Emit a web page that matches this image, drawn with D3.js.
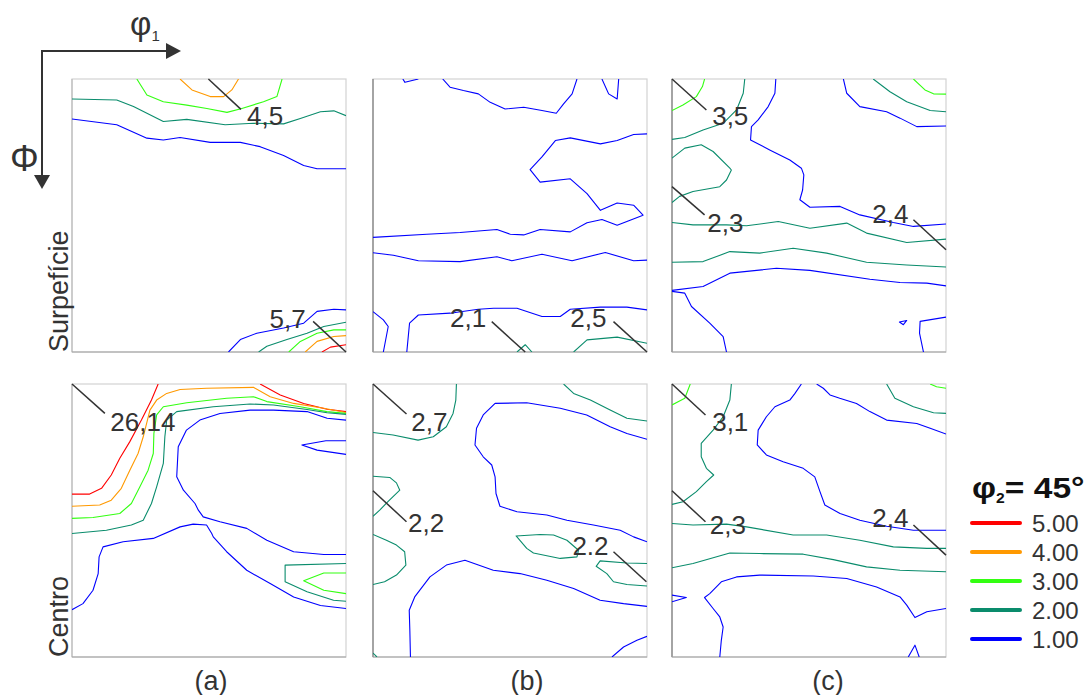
<!DOCTYPE html>
<html>
<head>
<meta charset="utf-8">
<script src="https://cdn.jsdelivr.net/npm/d3@7"></script>
<style>
  body { margin: 0; background: #fff; }
  svg { display: block; font-family: "Liberation Sans", Arial, sans-serif; }
</style>
</head>
<body>
<div id="chart"></div>
<script>
// contour levels (legend)
const levels = [5, 4, 3, 2, 1];
const levelLabels = ["5.00", "4.00", "3.00", "2.00", "1.00"];
const levelColors = ["#ff0000", "#ff9900", "#33ff11", "#0a8c6c", "#0000ff"];
const rowNames = ["Surpefície", "Centro"];
const colNames = ["(a)", "(b)", "(c)"];

// contour lines: [level, [[phi1, Phi], ...] in degrees, closed?]
const surfA = [
  [4, [[35.5,0],[39.4,3.6],[45.4,5.8],[49.8,5.8],[52.5,3.6],[54.7,0]]],
  [3, [[21.3,0],[24.6,5.3],[30,7.5],[37.7,8.6],[44.3,9.7],[50.9,11],[55.8,9.7],[62.9,7.5],[67.3,5.8],[69,0]]],
  [2, [[0,6.6],[14.7,6.9],[20.2,9.1],[30,14],[37.7,13.3],[50.3,15.1],[59.6,14.6],[69.5,14.8],[75,13],[81.6,10.8],[86,10.5],[90,12.1]]],
  [1, [[0,13.2],[14.7,15.1],[24.6,19.5],[30,20.1],[35.5,19.3],[45.4,20.9],[55.3,20.9],[61.8,22.3],[69.5,25.2],[76.1,28.5],[80.5,29.6],[90,29.6]]],
  [1, [[51.4,90],[55.3,85.9],[60.7,83.8],[69.5,82.1],[76.1,80.5],[80.5,76.6],[86,75.9],[90,76.1]]],
  [2, [[61.3,90],[64,88.1],[70.6,85.9],[77.2,83.8],[82.7,81.6],[90,80.2]]],
  [3, [[71.2,90],[75,86.5],[80.5,83.8],[86,82.7],[90,82.7]]],
  [4, [[76.6,90],[80.5,86.5],[86,84.9],[90,84.6]]],
  [5, [[82.1,90],[84.9,88.4],[90,87.6]]]
];
const surfB = [
  [1, [[9.8,0],[10.5,1.1],[14.9,0]]],
  [1, [[22.9,0],[25.3,2.7],[29.7,3.8],[34.6,4.9],[38.5,7.7],[43.4,9.9],[49.5,9.3],[55.5,10.4],[60.2,11.3],[62.6,8.2],[65.4,4.9],[67,0]]],
  [1, [[75.2,0],[77.4,4.9],[80.2,6.6],[80.7,0]]],
  [1, [[90,18.1],[85.6,18.3],[80.2,20.3],[74.7,21.4],[64.8,19.4],[59.9,20.3],[55.5,25.7],[51.6,29.9],[54.9,34],[64.8,32.9],[70.3,37.8],[74.7,43.3],[80.2,40.9],[85.6,41.6],[88.7,44.9],[80.2,48.2],[75.2,46.3],[70.3,47.4],[64.8,50.4],[54.9,49.6],[49.5,51.4],[45.1,51.2],[40.7,49.6],[28.6,50.6],[17.7,51.2],[0,52.2]]],
  [1, [[0,57.3],[6.7,58.1],[14.9,59.9],[28.6,60.2],[40.7,58.6],[45.6,59.9],[55.5,57.8],[65.4,59.9],[76.3,57.2],[85.6,59.9],[90,59.7]]],
  [1, [[0,76.7],[3.4,79.4],[5,81.6],[3.4,90]]],
  [1, [[11.1,90],[12,80.5],[14.9,77.8],[25.3,77.2],[34.6,75.9],[39.6,75.6],[47.3,75.6],[55.5,78.3],[61.5,78.3],[64.8,75.9],[74.7,75.2],[83.4,75.2],[90,76.1]]],
  [2, [[47.3,90],[50,87.6],[52.2,90]]],
  [2, [[65.9,90],[70.3,86],[80.2,85.1],[90,87.1]]]
];
const surfC = [
  [3, [[0,10.4],[3.6,8.6],[8,5.8],[10,2.5],[10.7,0]]],
  [2, [[0,19.9],[4.2,19.3],[10.2,16.8],[16.8,14.6],[21.2,10.2],[23.4,4.7],[23.9,0]]],
  [2, [[0,26.1],[4.2,22.8],[9.6,21.7],[13.5,23.9],[19,29.4],[19.5,30],[17.9,33.3],[15.7,35.5],[6.9,37.1],[2.5,38.7],[0,40.7]]],
  [1, [[34.1,0],[33.8,4.7],[31.6,9.1],[28.3,13.5],[26.1,15.7],[25.8,20.1],[32.1,23.4],[38.7,26.7],[42.5,29.4],[43.3,31.6],[42.9,36.6],[42,39.8],[45.3,42.3],[55.2,42],[61.7,44.8],[72.7,47.3],[79.3,48.6],[90,47.8]]],
  [1, [[56.3,0],[57.4,4.7],[61.7,9.1],[70.5,10.8],[74.9,12.9],[80.4,15.7],[90,15.5]]],
  [2, [[66.1,0],[71.6,4.2],[77.1,7.5],[84.8,10.4],[90,10.8]]],
  [3, [[79.3,0],[83.1,3.6],[85.9,4.9],[90,5]]],
  [2, [[0,47.3],[6.9,48.1],[17.9,48.1],[24.5,48.4],[34.9,47],[45.3,49.2],[57.4,47.5],[63.9,50.8],[77.1,53.9],[90,52.8]]],
  [2, [[0,60.4],[10.2,60.2],[19,56.9],[28.8,57.4],[39.8,55.8],[50.8,57.4],[63.9,60.4],[77.1,61.3],[90,62]]],
  [1, [[0,69.7],[10.2,68.4],[19,64],[34.3,62.4],[45.3,63.1],[65,66],[74.9,67.1],[83.7,67.3],[90,68.2]]],
  [1, [[0,70],[4.2,70.6],[6.4,75],[12.4,80.5],[16.8,84.9],[17.9,90]]],
  [1, [[74.7,80.1],[77.1,79.6],[76,81]], true],
  [1, [[82.6,90],[81.3,83.8],[81.5,79.9],[90,78.5]]]
];
const centA = [
  [5, [[0,36.3],[5.8,36.3],[9.7,34.4],[12.9,30],[15.7,24.5],[19,19],[22.8,11.9],[26.1,5.3],[28.3,0]]],
  [5, [[61.8,0],[68.4,3.6],[76.1,6.4],[83.8,8.3],[90,9.1]]],
  [4, [[0,40.3],[9.1,39.9],[12.9,38.3],[16.2,34.4],[19,28.4],[21.7,22.9],[23.4,17.4],[25.6,8.6],[27.8,5.3],[31.1,3.1],[35.5,1.8],[44.2,1.4],[59.6,1.1],[65.1,4.2],[72.8,6.4],[82.7,8],[90,9.4]]],
  [3, [[0,44.3],[6.9,44],[15.7,42.7],[19.5,39.4],[22.3,33.9],[25,28.4],[26.7,22.9],[26.9,16.3],[27.8,10.2],[30,7.5],[37.7,6.2],[50.8,4.7],[59.6,4.2],[64,5.8],[75,7.5],[83.7,9.1],[90,9.7]]],
  [2, [[0,49.3],[11.3,48.2],[19.5,46.5],[23.4,44.9],[26.1,39.4],[27.8,33.9],[30,26.2],[30.5,17.4],[31.1,11.9],[34.4,9.1],[46.4,7.5],[58.5,6.6],[66.2,6.9],[77.2,8.4],[83.8,9.5],[90,10]]],
  [1, [[90,11.9],[83.8,11.3],[77.2,9.1],[66.2,8.6],[58.5,8.6],[48.6,9.7],[42,11.9],[37.6,15.2],[34.9,20.7],[34.4,30.6],[36.6,35],[40.4,39.4],[41.5,41.6],[43.1,43.8],[48.6,45.4],[57.4,47.6],[64,51.5],[72.8,55.3],[82.7,56.2],[90,56.2]]],
  [1, [[90,18.7],[83.4,18.7],[75.5,20.1],[80.5,21.8],[90,23.2]]],
  [1, [[0,74.4],[3.6,72.4],[6.9,68],[8.6,62.5],[8.9,57],[10.2,53.7],[16.8,52],[26.7,50.9],[35.5,47.1],[39.8,46.2],[44.2,46.5],[45.9,49.3],[46.4,50.4],[50.8,55.3],[57.4,61.4],[65.1,65.8],[72.8,70.2],[81.6,73],[90,74]]],
  [2, [[90,59.2],[70,59.7],[70,65.2],[77.2,68.5],[85.9,71.3],[90,71.6]]],
  [3, [[90,62.3],[82.7,62.3],[76.1,64.9],[82.7,68],[90,69.1]]]
];
const centB = [
  [2, [[0,16],[6.6,16.8],[14.8,18.5],[19.8,17.4],[24.1,14.1],[26.3,9.7],[27.2,5.3],[27.4,0]]],
  [2, [[62.6,0],[65.9,3.1],[71.4,5.3],[77.9,8.6],[83.4,11.3],[90,12.2]]],
  [1, [[90,18.2],[83.4,16.3],[77.9,14.1],[70.2,10.2],[61.5,8],[50.5,6.2],[40.1,6.4],[36.2,10.2],[34,14.6],[33.5,20.1],[36.2,24],[39,26.7],[40.1,30.6],[40.4,36.1],[41.7,40.3],[47.3,42.1],[57.1,43.2],[63.7,44.9],[72.4,46.5],[81.2,48.2],[85.6,50.4],[90,52]]],
  [2, [[0,30.4],[5.5,30.8],[7.7,32.6],[8.8,35],[4.9,38.8],[2.2,41.6],[0,43.6]]],
  [2, [[0,49.6],[4.4,51.5],[7.7,53.1],[10.4,55.3],[10.8,59.7],[7.7,63],[3.8,65.2],[0,66.1]]],
  [2, [[47,50.1],[54.9,49.6],[59.3,49.8],[63.7,51.5],[67.5,54.8],[67,57],[61.5,57.5],[52.7,55.7],[50.5,54.2]], true],
  [2, [[90,59.2],[83.4,59],[74.6,58.3],[73.3,60.1],[76.8,62.5],[79,65.2],[83.4,66.1],[90,66.6]]],
  [1, [[12.3,90],[12.1,81.2],[11.9,74.6],[13.7,70.2],[18.7,63.6],[24.1,59.7],[30.2,58.1],[39.5,61.4],[48.3,62.5],[57.1,64.7],[65.9,67.4],[74.6,71.3],[82.3,72.4],[90,73.3]]],
  [1, [[78.5,90],[82.3,86.7],[86.7,84.5],[90,83.2]]],
  [2, [[0,88.7],[1.3,90]]]
];
const centC = [
  [3, [[0,6.9],[4.2,4.7],[6,0]]],
  [3, [[84.8,0],[86.9,0.9],[90,1.4]]],
  [2, [[19.5,0],[19,5.3],[16.8,10.8],[13.5,15.2],[9.6,19.6],[9.6,24],[11.3,27.8],[13.7,30],[11.3,32.2],[8,35.5],[3.6,38.8],[0,39.7]]],
  [2, [[70.5,0],[73.2,4.7],[79.3,7.5],[85.9,9.5],[90,9.7]]],
  [1, [[90,16.5],[84.8,14.6],[80.4,13],[70.5,11.9],[65,9.1],[60.6,6.4],[55.1,4.7],[51.9,3.6],[49.7,1.4],[47.5,0]]],
  [1, [[42.5,0],[40.4,3.1],[38.7,5.3],[33.8,7.5],[31,10.8],[28.3,15.2],[28,20.1],[31,23.4],[36.5,25.6],[43.1,27.8],[46.9,30.6],[48.6,35.5],[50.2,39.9],[55.2,42.7],[61.7,44.9],[70.5,46.9],[79.3,48.2],[90,48.2]]],
  [2, [[0,46],[6.9,46.5],[17.9,46.2],[24.5,47.1],[39.8,49.8],[50.8,49.8],[61.7,51.5],[72.7,53.7],[83.7,54.2],[90,54.2]]],
  [2, [[0,60.6],[6.9,59.2],[19,55.7],[28.8,55.9],[43.1,56.1],[53,57.9],[63.9,60.3],[74.9,61.4],[90,61.9]]],
  [1, [[15.7,90],[16.2,84.5],[16.8,80.1],[15.7,76.8],[13.5,74],[10.7,70.4],[12.4,69.1],[16.2,65.2],[21.2,63.6],[28.8,63],[46.4,63.3],[57.4,64.1],[67.2,66.9],[74.9,70.2],[77.1,72.9],[79.8,77],[83.7,75.1],[90,74]]],
  [1, [[0,69.6],[4.7,70.4],[0,71.8]]],
  [1, [[77.6,90],[79.8,86.1],[81.2,90]]]
];

// peak labels: [text, leader start phi1, Phi, leader end phi1, Phi, text phi1, Phi]
const labSurfA = [["4,5",44.8,0,55.5,10,57.5,15.1], ["5,7",79.2,79.9,90,90,64.9,82.1]];
const labSurfB = [["2,1",39,80,50,90,25.3,81.6], ["2,5",79,80,90,90,64.8,81.6]];
const labSurfC = [["3,5",0,0,11.3,10.2,13.2,15.1], ["2,3",0,35.5,10.7,44.8,11.6,50.6], ["2,4",79.3,46.4,90,56.3,65.8,47.5]];
const labCentA = [["26,14",0,0,10.8,9.7,12.6,15.5]];
const labCentB = [["2,7",0,0,11,9.9,12.6,15.5], ["2,2",0,35.2,11,45.4,11.5,48.7], ["2.2",79,55.3,89.8,65.2,65.5,56.4]];
const labCentC = [["3,1",0,0,11,10.2,13.2,15.5], ["2,3",0,35.2,11,45.4,12.4,49.3], ["2,4",79.3,46.5,90,56.4,65.8,47.3]];

const width = 1088, height = 695;
const panelW = 274, panelH = 273;
const colX = [72, 373, 672];
const rowY = [79, 384];

const panels = [
  {data: surfA, labels: labSurfA, col: 0, row: 0},
  {data: surfB, labels: labSurfB, col: 1, row: 0},
  {data: surfC, labels: labSurfC, col: 2, row: 0},
  {data: centA, labels: labCentA, col: 0, row: 1},
  {data: centB, labels: labCentB, col: 1, row: 1},
  {data: centC, labels: labCentC, col: 2, row: 1}
];

const svg = d3.select("#chart").append("svg")
  .attr("width", width)
  .attr("height", height);

svg.append("rect").attr("width", width).attr("height", height).attr("fill", "#fff");

const x = d3.scaleLinear().domain([0, 90]).range([0, panelW]);
const y = d3.scaleLinear().domain([0, 90]).range([0, panelH]);
const color = d3.scaleOrdinal().domain(levels).range(levelColors);

const line = d3.line().x(d => x(d[0])).y(d => y(d[1]));
const lineClosed = d3.line().x(d => x(d[0])).y(d => y(d[1])).curve(d3.curveLinearClosed);

panels.forEach((p, i) => {
  const g = svg.append("g")
    .attr("transform", `translate(${colX[p.col]},${rowY[p.row]})`);

  g.append("clipPath").attr("id", "clip" + i)
    .append("rect").attr("width", panelW).attr("height", panelH);

  // frame: light top/right, darker left/bottom
  g.append("rect")
    .attr("width", panelW).attr("height", panelH)
    .attr("fill", "none").attr("stroke", "#d2d2d2").attr("stroke-width", 1.2);
  g.append("line")
    .attr("x1", 0).attr("x2", 0).attr("y1", 0).attr("y2", panelH)
    .attr("stroke", p.col == 0 ? "#bdbdbd" : "#7a7a7a").attr("stroke-width", 1.2);
  g.append("line")
    .attr("x1", 0).attr("x2", panelW).attr("y1", panelH).attr("y2", panelH)
    .attr("stroke", "#a0a0a0").attr("stroke-width", 1.2);

  g.append("g")
    .attr("clip-path", `url(#clip${i})`)
    .selectAll("path")
    .data(p.data)
    .join("path")
    .attr("d", d => d[2] ? lineClosed(d[1]) : line(d[1]))
    .attr("fill", "none")
    .attr("stroke", d => color(d[0]))
    .attr("stroke-width", 1.1)
    .attr("stroke-linejoin", "round");

  g.selectAll("line.leader")
    .data(p.labels)
    .join("line")
    .attr("class", "leader")
    .attr("x1", d => x(d[1])).attr("y1", d => y(d[2]))
    .attr("x2", d => x(d[3])).attr("y2", d => y(d[4]))
    .attr("stroke", "#333").attr("stroke-width", 1.5);

  g.selectAll("text.peak")
    .data(p.labels)
    .join("text")
    .attr("class", "peak")
    .attr("x", d => x(d[5])).attr("y", d => y(d[6]))
    .attr("font-size", 26)
    .attr("fill", "#333")
    .text(d => d[0]);
});

// row titles
rowNames.forEach((name, r) => {
  svg.append("text")
    .attr("transform", `translate(68,${rowY[r] + panelH}) rotate(-90)`)
    .attr("font-size", 27)
    .attr("fill", "#333")
    .text(name);
});

// column titles
const colShift = [2, 17, 19];
colNames.forEach((name, c) => {
  svg.append("text")
    .attr("x", colX[c] + panelW / 2 + colShift[c])
    .attr("y", 690)
    .attr("text-anchor", "middle")
    .attr("font-size", 27)
    .attr("fill", "#333")
    .text(name);
});

// axis orientation arrows
const arr = svg.append("g").attr("fill", "#333").attr("stroke", "#333");
arr.append("line").attr("x1", 42).attr("y1", 51).attr("x2", 168).attr("y2", 51).attr("stroke-width", 2);
arr.append("path").attr("d", "M166,43 L181,51 L166,59 Z").attr("stroke", "none");
arr.append("line").attr("x1", 42).attr("y1", 50).attr("x2", 42).attr("y2", 177).attr("stroke-width", 2);
arr.append("path").attr("d", "M34,175 L42,189 L50,175 Z").attr("stroke", "none");

const phi1 = svg.append("text").attr("x", 130).attr("y", 35).attr("font-size", 33).attr("fill", "#333");
phi1.append("tspan").text("φ");
phi1.append("tspan").attr("font-size", 15).attr("dy", 6).text("1");

svg.append("text")
  .attr("x", 10).attr("y", 171)
  .attr("font-size", 36)
  .attr("fill", "#333")
  .text("Φ");

// legend
const legend = svg.append("g").attr("transform", "translate(970,0)");
const lt = legend.append("text")
  .attr("transform", "translate(2,498) scale(1.12,1)")
  .attr("font-size", 30).attr("font-weight", "bold").attr("fill", "#111");
lt.append("tspan").text("φ");
lt.append("tspan").attr("font-size", 14).attr("dy", 5).text("2");
lt.append("tspan").attr("dy", -5).text("= 45°");

const rows = legend.selectAll("g.item")
  .data(levels)
  .join("g")
  .attr("class", "item")
  .attr("transform", (d, i) => `translate(0,${523 + i * 29})`);

rows.append("line")
  .attr("x1", 2).attr("x2", 50)
  .attr("stroke", d => color(d))
  .attr("stroke-width", 4)
  .attr("stroke-linecap", "round");

rows.append("text")
  .attr("x", 62).attr("y", 9)
  .attr("font-size", 24)
  .attr("fill", "#333")
  .text((d, i) => levelLabels[i]);
</script>
</body>
</html>
